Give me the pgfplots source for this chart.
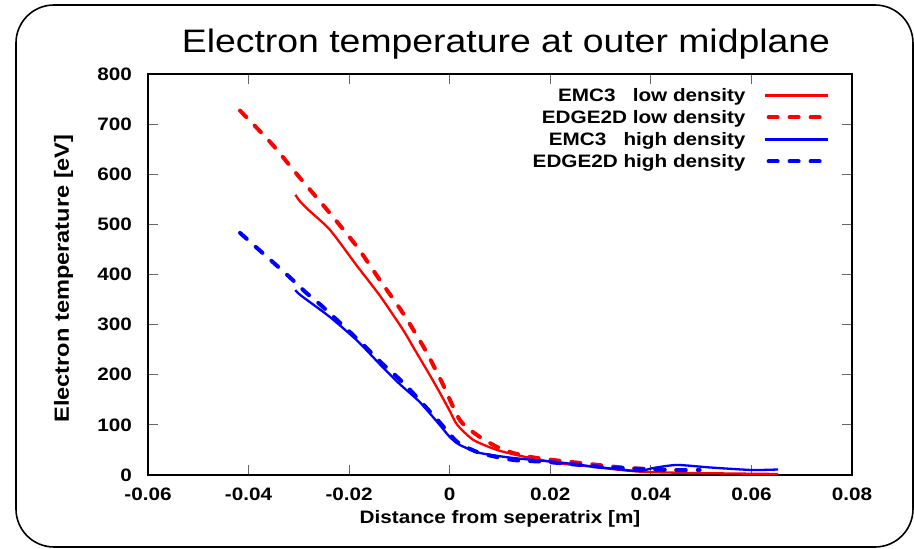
\documentclass[border=0pt]{standalone}
\usepackage{fontspec}
\setmainfont{Liberation Sans}[FakeStretch=1.15]
\usepackage{pgfplots}
\pgfplotsset{compat=1.18}
\usetikzlibrary{calc}

\definecolor{gpred}{RGB}{255,0,0}
\definecolor{gpblue}{RGB}{0,0,255}
\pgfplotsset{dashlegend/.style={legend image code/.code={\draw[##1] (4pt,0pt) -- (60pt,0pt);}}}

\begin{document}
\begin{tikzpicture}
\begin{axis}[
  scale only axis, width=704pt, height=401pt,
  xmin=-0.06, xmax=0.08, ymin=0, ymax=800,
  scaled x ticks=false, scaled y ticks=false,
  xtick={-0.06,-0.04,-0.02,0,0.02,0.04,0.06,0.08},
  xticklabels={-0.06,-0.04,-0.02,0,0.02,0.04,0.06,0.08},
  ytick={0,100,200,300,400,500,600,700,800},
  yticklabels={0,100,200,300,400,500,600,700,800},
  tick align=inside, major tick length=10pt,
  tick style={black!60, line width=0.9pt},
  axis line style={line width=1.3pt},
  ticklabel style={font=\fontsize{18}{18}\selectfont\bfseries},
  xticklabel style={inner sep=0pt, anchor=north, yshift=-13pt},
  yticklabel style={inner sep=0pt, anchor=east, xshift=-16pt},
  xlabel={Distance from seperatrix [m]},
  ylabel={Electron temperature [eV]},
  xlabel style={font=\fontsize{18}{18}\selectfont\bfseries, at={(axis description cs:0.5,-0.11)}, anchor=center},
  ylabel style={font=\fontsize{20.5}{20.5}\selectfont\bfseries, at={(axis description cs:-0.12,0.49)}, anchor=center},
  legend plot pos=right,
  legend cell align=right,
  legend image code/.code={\draw[#1] (0pt,0pt) -- (63pt,0pt);},
  legend style={draw=none, fill=none, at={(axis description cs:1,1)}, anchor=north east,
    xshift=-20pt, yshift=-12pt, font=\fontsize{18}{18}\selectfont\bfseries,
    nodes={inner sep=0pt}, row sep=7.4pt, column sep=18pt},
  clip=false,
]
% EMC3 low density
\addplot[gpred, line width=2.3pt, smooth, tension=0.4] coordinates {
  (-0.0307,559) (-0.0297,545) (-0.0280,528) (-0.0238,489) (-0.0185,418)
  (-0.0139,358) (-0.0093,290) (-0.0073,256) (-0.0040,200) (-0.0019,163)
  (0.0000,128) (0.0015,100) (0.0047,70) (0.0094,50) (0.0146,37) (0.0220,23)
  (0.0260,19) (0.0373,7) (0.0484,4) (0.0653,2)
};
\addlegendentry{EMC3\ \ \ low density}
% EDGE2D low density
\addplot[gpred, line width=4pt, line cap=round, dash pattern=on 9pt off 12pt, smooth, tension=0.4, dashlegend] coordinates {
  (-0.0417,727) (-0.0355,662) (-0.0298,593) (-0.0238,522) (-0.0184,455)
  (-0.0139,389) (-0.0093,323) (-0.0050,252) (-0.0016,186) (0.0020,110)
  (0.0054,80) (0.0094,56) (0.0126,44) (0.0173,34) (0.0260,24)
  (0.0353,14) (0.0440,10) (0.0490,8)
};
\addlegendentry{EDGE2D low density}
% EMC3 high density
\addplot[gpblue, line width=2.3pt, smooth, tension=0.4] coordinates {
  (-0.0307,369) (-0.0297,359) (-0.0238,315) (-0.0184,268) (-0.0138,220)
  (-0.0100,182) (-0.0060,146) (-0.0025,106) (0.0000,76) (0.0020,60)
  (0.0060,44) (0.0126,34) (0.0220,25) (0.0285,17) (0.0373,8)
  (0.0405,14) (0.0452,20) (0.0518,15) (0.0600,10) (0.0653,11)
};
\addlegendentry{EMC3\ \ \ high density}
% EDGE2D high density
\addplot[gpblue, line width=4pt, line cap=round, dash pattern=on 9pt off 12pt, smooth, tension=0.4, dashlegend] coordinates {
  (-0.0417,483) (-0.0323,399) (-0.0287,365) (-0.0254,337) (-0.0224,309)
  (-0.0194,281) (-0.0165,253) (-0.0135,223) (-0.0105,196) (-0.0079,170)
  (-0.0019,104) (0.0015,66) (0.0060,44) (0.0126,30) (0.0193,26)
  (0.0305,16) (0.0385,12) (0.0440,10) (0.0497,10)
};
\addlegendentry{EDGE2D high density}
\coordinate (SW) at (rel axis cs:0,0);
\end{axis}
\path[use as bounding box] ($(SW)+(-148pt,-74pt)$) rectangle ($(SW)+(766pt,475pt)$);
\draw[line width=1.6pt, rounded corners=38pt] ($(SW)+(-132pt,-72pt)$) rectangle ($(SW)+(765pt,470pt)$);
\node[anchor=base, inner sep=0pt, font=\fontsize{32.5}{32.5}\selectfont] at ($(SW)+(358pt,422pt)$) {Electron temperature at outer midplane};
\end{tikzpicture}
\end{document}
